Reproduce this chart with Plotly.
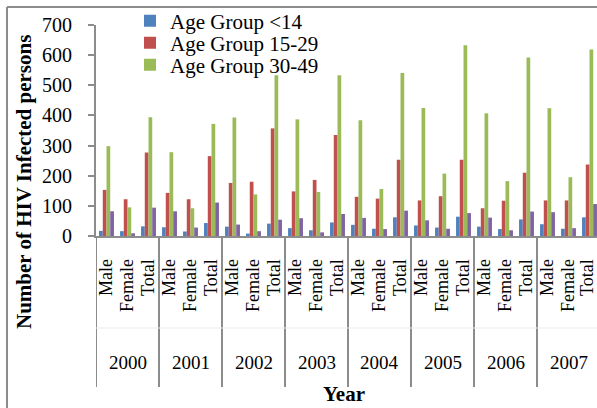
import plotly.graph_objects as go

years = ["2000", "2001", "2002", "2003", "2004", "2005", "2006", "2007"]
subcats = ["Male", "Female", "Total"]

age_lt14 = [17, 16, 32, 29, 15, 43, 31, 8, 41, 26, 19, 45, 37, 24, 62, 35, 28, 64, 31, 23, 55, 39, 24, 62]
age_15_29 = [153, 122, 277, 143, 122, 265, 176, 180, 357, 148, 186, 335, 130, 124, 253, 118, 132, 253, 92, 117, 210, 118, 118, 237]
age_30_49 = [298, 95, 394, 278, 92, 372, 393, 138, 533, 387, 146, 533, 384, 156, 541, 425, 207, 633, 407, 182, 592, 424, 195, 619]
age_other = [82, 9, 94, 82, 28, 111, 38, 16, 54, 59, 12, 73, 60, 23, 84, 52, 24, 76, 61, 19, 81, 79, 26, 106]

series = [
    ("Age Group <14", age_lt14, "#4F81BD", "legend"),
    ("Age Group 15-29", age_15_29, "#C0504D", "legend2"),
    ("Age Group 30-49", age_30_49, "#9BBB59", "legend3"),
    ("Other", age_other, "#8064A2", None),
]

FONT = "Liberation Serif, Times New Roman, serif"
n = len(years) * len(subcats)
xpos = list(range(n))
ticktext = [subcats[i % 3] for i in range(n)]

fig = go.Figure()
for name, vals, color, leg in series:
    kw = dict(legend=leg) if leg else dict(showlegend=False)
    fig.add_trace(go.Bar(x=xpos, y=vals, name=name, marker=dict(color=color, line=dict(width=0)),
                         hoverinfo="skip", **kw))

W, H = 597, 408
ml, mr, mt, mb = 96, 0, 25, 172
pw = W - ml - mr
ph = H - mt - mb
cat_px = 21.0
xmax = -0.5 + pw / cat_px

def py(pix):
    return (H - mb - pix) / ph

def px(pix):
    return (pix - ml) / pw

shapes = []
for g in range(len(years) + 1):
    shapes.append(dict(type="line", xref="x", yref="paper", x0=3 * g - 0.5, x1=3 * g - 0.5,
                       y0=0, y1=py(387), line=dict(color="#8C8C8C", width=2)))
shapes.append(dict(type="line", xref="paper", yref="paper", x0=0, x1=1, y0=py(328), y1=py(328),
                   line=dict(color="#EBEBEB", width=1)))
shapes.append(dict(type="line", xref="paper", yref="paper", x0=px(7), x1=1.05, y0=py(7), y1=py(7),
                   line=dict(color="#8C8C8C", width=2)))
shapes.append(dict(type="line", xref="paper", yref="paper", x0=px(7), x1=px(7), y0=py(7), y1=py(420),
                   line=dict(color="#8C8C8C", width=2)))

annotations = []
# category (inner level) labels along the x axis
for i, t in zip(xpos, ticktext):
    annotations.append(dict(x=i, y=py(258), xref="x", yref="paper", text=t, textangle=-90,
                            showarrow=False, xanchor="center", yanchor="top", borderpad=0,
                            xshift=-3 if i == n - 1 else -1,
                            font=dict(family=FONT, size=18, color="black")))
for g, yr in enumerate(years):
    annotations.append(dict(x=3 * g + 1, y=py(362), xref="x", yref="paper", text=yr, showarrow=False,
                            font=dict(family=FONT, size=19, color="black"), yanchor="middle"))
annotations.append(dict(x=px(344), y=py(394), xref="paper", yref="paper", text="<b>Year</b>",
                        showarrow=False, font=dict(family=FONT, size=21, color="black"), yanchor="middle"))
annotations.append(dict(x=px(24), y=py(182), xref="paper", yref="paper",
                        text="<b>Number of HIV Infected persons</b>", textangle=-90,
                        showarrow=False, font=dict(family=FONT, size=21, color="black"),
                        xanchor="center", yanchor="middle"))

def leg(ycen):
    return dict(x=px(130), y=py(ycen), xanchor="left", yanchor="middle", bgcolor="rgba(0,0,0,0)",
                font=dict(family=FONT, size=21, color="black"), borderwidth=0)

fig.update_layout(
    width=W, height=H,
    margin=dict(l=ml, r=mr, t=mt, b=mb, pad=0),
    paper_bgcolor="white", plot_bgcolor="white",
    barmode="group", bargap=0.29, bargroupgap=0,
    font=dict(family=FONT, size=19, color="black"),
    showlegend=True,
    legend=leg(21), legend2=leg(43), legend3=leg(65),
    shapes=shapes, annotations=annotations,
    hovermode=False,
)
fig.update_xaxes(range=[-0.5, xmax], tickmode="array", tickvals=xpos, showticklabels=False,
                 ticks="", showgrid=False, zeroline=False,
                 showline=True, linecolor="#8C8C8C", linewidth=2)
fig.update_yaxes(range=[0, 700], tickmode="array", tickvals=list(range(0, 701, 100)),
                 ticks="outside", ticklen=6, tickcolor="#8C8C8C", tickwidth=2,
                 showgrid=False, zeroline=False, showline=True, linecolor="#8C8C8C", linewidth=2,
                 tickfont=dict(family=FONT, size=20, color="black"), ticklabelstandoff=12)

fig.write_html("out.html", config={"displayModeBar": False, "staticPlot": True},
               post_script="document.body.style.margin='0';document.body.style.padding='0';")
